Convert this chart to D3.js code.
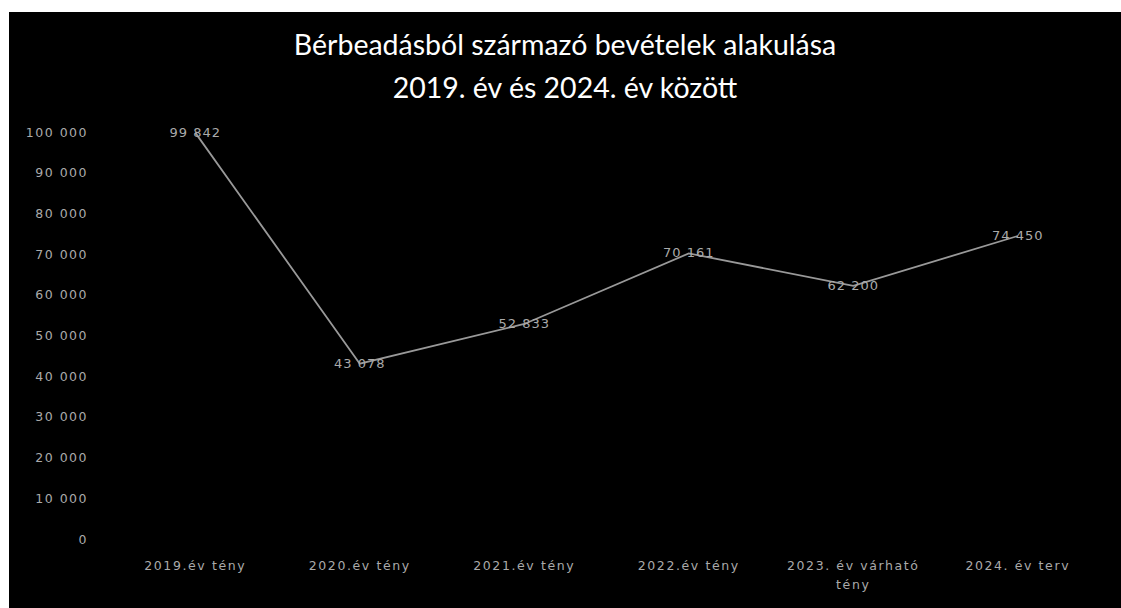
<!DOCTYPE html>
<html><head><meta charset="utf-8">
<script src="https://cdn.jsdelivr.net/npm/d3@7"></script>
<style>html,body{margin:0;padding:0;background:#fff;}</style>
</head><body>
<svg id="c" width="1121" height="608"></svg>
<script>
const categories = ["2019.év tény","2020.év tény","2021.év tény","2022.év tény","2023. év várható tény","2024. év terv"];
const values = [99842, 43078, 52833, 70161, 62200, 74450];
const valueLabels = ["99 842","43 078","52 833","70 161","62 200","74 450"];
const yTicks = [0,10000,20000,30000,40000,50000,60000,70000,80000,90000,100000];
const titleLines = ["Bérbeadásból származó bevételek alakulása","2019. év és 2024. év között"];

const svg = d3.select("#c");
svg.append("rect").attr("x",9).attr("y",12).attr("width",1112).attr("height",596).attr("fill","#000");

const x = d3.scaleBand().domain(categories).range([113,1100]);
const y = d3.scaleLinear().domain([0,100000]).range([539,132]);

const fmt = v => d3.format(",")(v).replace(/,/g," ");

svg.append("g").selectAll("text").data(titleLines).join("text")
  .attr("x",565).attr("y",(d,i)=>55+i*43).attr("text-anchor","middle")
  .attr("fill","#fff").attr("font-family","Lato, 'Open Sans', sans-serif").attr("font-size",28.5)
  .text(d=>d);

const yAxis = svg.append("g").attr("transform","translate(88,0)")
  .call(d3.axisLeft(y).tickValues(yTicks).tickFormat(fmt).tickSize(0).tickPadding(0));
yAxis.select(".domain").remove();
yAxis.selectAll("text").attr("fill","#aaa").attr("font-family","'DejaVu Sans', sans-serif").attr("font-size",12.5).attr("letter-spacing",1.5);

const xAxis = svg.append("g").attr("transform","translate(0,561)")
  .call(d3.axisBottom(x).tickSize(0).tickPadding(0));
xAxis.select(".domain").remove();
xAxis.selectAll(".tick text").attr("fill","#aaa").attr("font-family","'DejaVu Sans', sans-serif").attr("font-size",12.5).attr("letter-spacing",1.6)
  .each(function(d){
    const t = d3.select(this);
    if (d === "2023. év várható tény") {
      t.text(null);
      t.append("tspan").attr("x",0).attr("dy","0.71em").text("2023. év várható");
      t.append("tspan").attr("x",0).attr("dy","1.5em").text("tény");
    }
  });

const pts = categories.map((c,i)=>[x(c)+x.bandwidth()/2, y(values[i])]);
svg.append("path").datum(pts).attr("d",d3.line()).attr("fill","none").attr("stroke","#999").attr("stroke-width",1.8);

svg.append("g").selectAll("text").data(categories).join("text")
  .attr("x",(d)=>x(d)+x.bandwidth()/2).attr("y",(d,i)=>y(values[i])+4)
  .attr("text-anchor","middle").attr("fill","#aaa")
  .attr("font-family","'DejaVu Sans', sans-serif").attr("font-size",13).attr("letter-spacing",1)
  .text((d,i)=>valueLabels[i]);
</script>
</body></html>
